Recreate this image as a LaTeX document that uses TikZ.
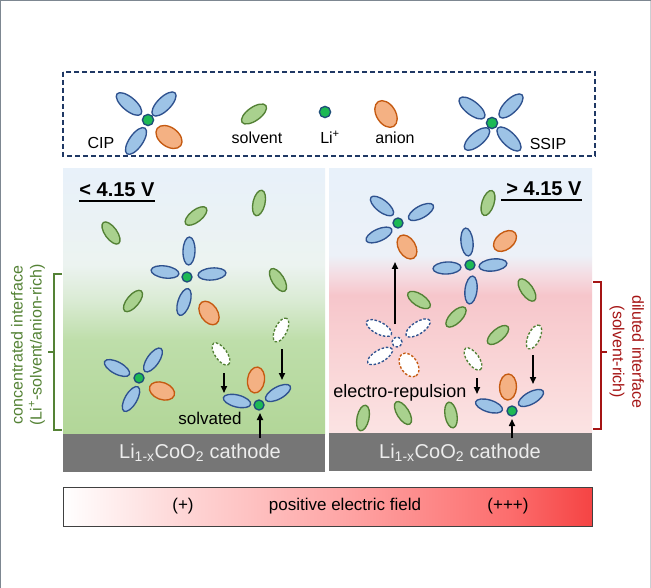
\documentclass[tikz,border=0pt]{standalone}
\usepackage{fontspec}
\setmainfont{Liberation Sans}
\usetikzlibrary{arrows.meta}
\definecolor{blF}{HTML}{9DC3E6}
\definecolor{blD}{HTML}{2F528F}
\definecolor{grF}{HTML}{A9D18E}
\definecolor{grD}{HTML}{538135}
\definecolor{orF}{HTML}{F4B183}
\definecolor{orD}{HTML}{C55A11}
\definecolor{liF}{HTML}{1DB954}
\definecolor{liD}{HTML}{1F4E79}
\definecolor{navy}{HTML}{1F3864}
\definecolor{cathC}{RGB}{118,118,118}
\definecolor{lgreen}{RGB}{84,130,53}
\definecolor{dred}{RGB}{165,20,20}
\definecolor{frameC}{RGB}{125,135,145}
% left panel colours
\definecolor{lbA}{RGB}{178,214,152}
\definecolor{lbB}{RGB}{190,222,170}
\definecolor{lbC}{RGB}{218,235,212}
\definecolor{lbD}{RGB}{236,243,240}
\definecolor{lbE}{RGB}{232,241,250}
% right panel colours
\definecolor{rbA}{RGB}{251,227,227}
\definecolor{rbB}{RGB}{249,210,212}
\definecolor{rbC}{RGB}{246,198,203}
\definecolor{rbD}{RGB}{245,220,226}
\definecolor{rbE}{RGB}{236,241,248}
\definecolor{rbF}{RGB}{232,241,250}
% bar colours
\definecolor{brA}{RGB}{254,215,215}
\definecolor{brB}{RGB}{254,165,165}
\definecolor{brC}{RGB}{252,110,110}
\definecolor{brD}{RGB}{245,68,68}
\pgfdeclareverticalshading{leftsh}{100bp}{color(0bp)=(lbA); color(25bp)=(lbA); color(42.7bp)=(lbB); color(50.3bp)=(lbC); color(56.9bp)=(lbD); color(75bp)=(lbE); color(100bp)=(lbE)}
\pgfdeclareverticalshading{rightsh}{100bp}{color(0bp)=(rbA); color(25bp)=(rbA); color(40.7bp)=(rbB); color(51.1bp)=(rbC); color(54.9bp)=(rbD); color(58.7bp)=(rbE); color(75bp)=(rbF); color(100bp)=(rbF)}
\pgfdeclarehorizontalshading{barsh}{100bp}{color(0bp)=(white); color(25bp)=(white); color(36bp)=(brA); color(51.6bp)=(brB); color(67bp)=(brC); color(75bp)=(brD); color(100bp)=(brD)}
\newcommand\fsz[1]{\fontsize{#1}{#1}\selectfont}
\def\msc{1}
\tikzset{
  blst/.style={draw=blD, fill=blF, line width=1.35pt},
  grst/.style={draw=grD, fill=grF, line width=1.35pt},
  orst/.style={draw=orD, fill=orF, line width=1.35pt},
  list/.style={draw=liD, fill=liF, line width=1.35pt},
  dsh/.style={fill=white, dash pattern=on 2.5pt off 1.8pt},
  arr/.style={-{Triangle[length=7pt,width=6pt]}, line width=1.6pt, black},
  txt/.style={inner sep=0pt, text=black},
  brk/.style={line width=1.2pt},
}
\newcommand\mBl[4][]{\draw[blst,#1,shift={(#2,#3)},rotate=#4,scale=\msc] (0,0) ellipse [x radius=14pt,y radius=6pt];}
\newcommand\mGr[4][]{\draw[grst,#1,shift={(#2,#3)},rotate=#4,scale=\msc] (0,0) ellipse [x radius=13pt,y radius=6pt];}
\newcommand\mOr[4][]{\draw[orst,#1,shift={(#2,#3)},rotate=#4,scale=\msc] (0,0) ellipse [x radius=13pt,y radius=8.5pt];}
\newcommand\mLi[3][]{\draw[list,#1,shift={(#2,#3)},scale=\msc] (0,0) circle [radius=5pt];}
\begin{document}
\begin{tikzpicture}[x=1pt,y=-1pt]
\useasboundingbox (0,0) rectangle (651,588);
\fill[white] (0,0) rectangle (651,588);
\draw[frameC, line width=1.4pt] (0.7,588) -- (0.7,0.7) -- (651,0.7);
\draw[frameC!40, line width=0.8pt] (650.5,0.7) -- (650.5,588);

% ---------- legend ----------
\draw[navy, line width=1.5pt, dash pattern=on 5pt off 3pt] (63,72) rectangle (595,156);
\begingroup
\def\msc{1.12}
\mBl{129}{104}{-40}
\mBl{164}{104}{45}
\mBl{136}{141}{55}
\mOr{169}{137}{-36}
\mLi{148}{120}
\mGr{254}{114}{35}
\mLi{325}{112}
\mOr{386}{114}{-58}
\mBl{472}{108}{-38}
\mBl{511}{106}{45}
\mBl{477}{139}{40}
\mBl{509}{139}{-45}
\mLi{492}{123}
\endgroup
\node[txt, font=\fsz{16}, anchor=base] (lcip) at (101,149) {CIP};
\node[txt, font=\fsz{16}, anchor=base] (lsolv) at (257,144) {solvent};
\node[txt, font=\fsz{16}, anchor=base] (lli) at (330,144) {Li\textsuperscript{+}};
\node[txt, font=\fsz{16}, anchor=base] (lan) at (395,144) {anion};
\node[txt, font=\fsz{16}, anchor=base] (lssip) at (548,150) {SSIP};

% ---------- panels ----------
\shade[shading=leftsh] (63,169) rectangle (325,434);
\shade[shading=rightsh] (329,169) rectangle (592,433);
\fill[cathC] (63,434) rectangle (325,472);
\fill[cathC] (329,433) rectangle (592,471);
\node[txt, text=white!93!black, font=\fsz{20}, anchor=base] (cathL) at (200,458) {Li\textsubscript{1-x}CoO\textsubscript{2} cathode};
\node[txt, text=white!93!black, font=\fsz{20}, anchor=base] (cathR) at (460,458) {Li\textsubscript{1-x}CoO\textsubscript{2} cathode};

\node[txt, font=\fsz{20}\bfseries, anchor=base] (vL) at (117,197) {< 4.15 V};
\draw[line width=1.6pt] (79,201) -- (155,201);
\node[txt, font=\fsz{20}\bfseries, anchor=base] (vR) at (544,196) {> 4.15 V};
\draw[line width=1.6pt] (501,200) -- (582,200);

% ---------- left panel molecules ----------
\mGr{196}{216}{38}
\mGr{259}{203}{77}
\mGr{111}{233}{-54}
\mGr{278}{280}{-58}
\mGr{133}{301}{50}
\mBl{189}{251}{88}
\mBl{165}{272}{-8}
\mBl{212}{274}{5}
\mBl{184}{302}{72}
\mOr{209}{313}{-56}
\mLi{187}{277}
\mGr[dsh]{281}{330}{64}
\mGr[dsh]{221}{354}{-55}
\mBl{117}{368}{-28}
\mBl{153}{360}{55}
\mBl{131}{399}{60}
\mOr{162}{391}{-20}
\mLi{139}{378}
\mBl{237}{401}{-14}
\mOr{256}{380}{82}
\mBl{278}{393}{29}
\mLi{259}{405}
\coordinate (la1s) at (224,373); \coordinate (la1e) at (224,393);
\coordinate (la2s) at (282,349); \coordinate (la2e) at (282,380);
\coordinate (la3s) at (260,438); \coordinate (la3e) at (260,413);
\draw[arr] (la1s) -- (la1e);
\draw[arr] (la2s) -- (la2e);
\draw[arr] (la3s) -- (la3e);
\node[txt, font=\fsz{17}, anchor=base] (solvated) at (210,424) {solvated};

% ---------- right panel molecules ----------
\mBl{382}{206}{-38}
\mBl{421}{212}{29}
\mBl{379}{235}{24}
\mOr{407}{247}{-59}
\mLi{398}{223}
\mGr{488}{203}{72}
\mOr{505}{241}{38}
\mBl{467}{242}{96}
\mBl{447}{268}{3}
\mBl{493}{265}{7}
\mBl{471}{290}{83}
\mLi{470}{265}
\mGr{419}{300}{-33}
\mGr{456}{317}{45}
\mGr{527}{290}{-55}
\mGr{498}{335}{40}
\mGr[dsh]{534}{337}{65}
\mBl[dsh]{379}{328}{-28}
\mBl[dsh]{418}{328}{33}
\mBl[dsh]{380}{356}{30}
\mOr[dsh]{409}{365}{-57}
\mLi[dsh,draw=blD]{397}{342}
\mGr[dsh]{473}{359}{-55}
\mGr{363}{418}{78}
\mGr{403}{413}{-58}
\mGr{451}{415}{100}
\mBl{489}{406}{-17}
\mOr{508}{387}{88}
\mBl{531}{398}{29}
\mLi{512}{411}
\coordinate (ra0s) at (395,324); \coordinate (ra0e) at (395,262);
\coordinate (ra1s) at (477,378); \coordinate (ra1e) at (477,394);
\coordinate (ra2s) at (533,355); \coordinate (ra2e) at (533,384);
\coordinate (ra3s) at (512,438); \coordinate (ra3e) at (512,419);
\draw[arr] (ra0s) -- (ra0e);
\draw[arr] (ra1s) -- (ra1e);
\draw[arr] (ra2s) -- (ra2e);
\draw[arr] (ra3s) -- (ra3e);
\node[txt, font=\fsz{18}, anchor=base] (repul) at (400,397) {electro-repulsion};

% ---------- side brackets and labels ----------
\draw[brk, lgreen] (62,274) -- (54,274) -- (54,430) -- (62,430);
\draw[brk, lgreen] (54,352) -- (48,352);
\node[txt, text=lgreen, font=\fsz{16}, rotate=90] (lab1) at (17,345) {concentrated interface};
\node[txt, text=lgreen, font=\fsz{16}, rotate=90] (lab2) at (37,345) {(Li\textsuperscript{+}-solvent/anion-rich)};
\draw[brk, dred] (593,282) -- (601,282) -- (601,429) -- (593,429);
\draw[brk, dred] (601,352) -- (607,352);
\node[txt, text=dred, font=\fsz{16}, rotate=-90] (rab1) at (638,352) {diluted interface};
\node[txt, text=dred, font=\fsz{16}, rotate=-90] (rab2) at (617,352) {(solvent-rich)};

% ---------- bottom bar ----------
\shade[shading=barsh] (63,487) rectangle (592,526);
\draw[black!75, line width=1pt] (63,487) rectangle (592,526);
\node[txt, font=\fsz{17}] (p1) at (183,506) {(+)};
\node[txt, font=\fsz{17}] (p2) at (345,506) {positive electric field};
\node[txt, font=\fsz{17}] (p3) at (508,506) {(+++)};
\end{tikzpicture}
\end{document}
